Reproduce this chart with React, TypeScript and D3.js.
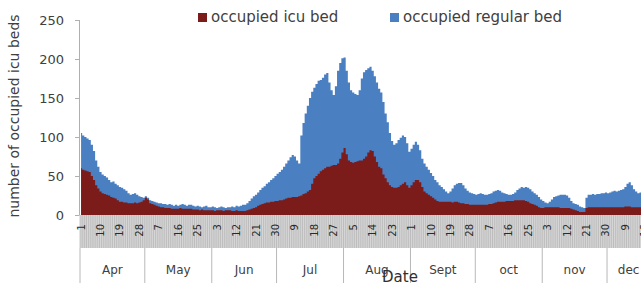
import { useEffect, useRef } from 'react';
import * as d3 from 'd3';

// months shown on the outer category level
const monthNames = ['Apr', 'May', 'Jun', 'Jul', 'Aug', 'Sept', 'oct', 'nov', 'dec'];
const monthDays = [30, 31, 30, 31, 31, 30, 31, 30, 20];

// occupied icu beds per day, from Apr 1
const icuBed = [
  60, 58, 57, 56, 55, 50, 45, 38, 34, 30,
  28, 27, 26, 25, 23, 22, 21, 19, 17, 17,
  16, 16, 15, 15, 15, 16, 15, 16, 17, 19,
  22, 20, 15, 14, 13, 12, 11, 10, 10, 9,
  9, 9, 8, 8, 8, 8, 9, 8, 8, 8,
  8, 8, 7, 7, 7, 6, 7, 6, 6, 6,
  6, 6, 5, 6, 6, 6, 5, 6, 6, 6,
  5, 5, 6, 5, 5, 5, 5, 6, 7, 8,
  9, 10, 12, 13, 14, 15, 16, 16, 17, 17,
  18, 18, 19, 19, 20, 21, 22, 22, 23, 23,
  23, 24, 25, 27, 28, 30, 32, 40, 47, 50,
  53, 56, 58, 60, 62, 62, 63, 64, 64, 66,
  72, 80, 86, 78, 70, 68, 67, 68, 69, 70,
  70, 72, 75, 80, 83, 82, 75, 68, 62, 60,
  52, 47, 42, 38, 36, 35, 35, 36, 38, 40,
  42, 38, 35, 38, 42, 45, 45, 42, 36, 30,
  28, 26, 24, 22, 20, 18, 17, 17, 17, 17,
  17, 17, 16, 17, 17, 16, 15, 15, 14, 14,
  13, 13, 13, 13, 13, 13, 13, 13, 13, 14,
  14, 15, 16, 17, 17, 17, 17, 18, 18, 18,
  18, 19, 19, 19, 19, 19, 18, 17, 15, 14,
  13, 12, 10, 9, 9, 10, 10, 10, 10, 10,
  10, 10, 9, 9, 9, 9, 9, 8, 7, 6,
  5, 4, 4, 4, 9, 10, 10, 10, 10, 10,
  10, 10, 10, 10, 10, 10, 10, 10, 10, 10,
  10, 10, 11, 11, 11, 10, 10, 10, 10, 10,
  10, 10, 10, 10,
];

// occupied regular beds per day (drawn behind the icu area)
const regularBed = [
  105, 102, 100, 98, 96, 90, 82, 70, 62, 55,
  52, 50, 48, 45, 42, 43, 40, 38, 36, 35,
  33, 31, 28, 26, 27, 28, 26, 24, 23, 22,
  24, 22, 19, 18, 17, 16, 15, 15, 14, 14,
  13, 14, 13, 12, 13, 12, 13, 14, 13, 12,
  13, 13, 12, 11, 12, 11, 10, 11, 12, 10,
  10, 11, 10, 9, 10, 11, 10, 9, 10, 10,
  11, 10, 12, 11, 12, 13, 13, 15, 18, 21,
  24, 26, 29, 32, 35, 37, 40, 42, 45, 47,
  50, 53, 55, 58, 62, 66, 70, 74, 77, 75,
  70, 66, 102, 118, 130, 140, 150, 158, 163, 168,
  172, 173, 176, 180, 182, 170, 160, 154, 165, 185,
  195, 201, 202, 185, 170, 160, 157, 155, 154, 160,
  175, 183, 186, 188, 190, 185, 178, 170, 162, 157,
  145, 130, 119, 105, 95, 90, 92, 96, 99, 102,
  100, 92, 81, 85, 90, 94, 90, 83, 72, 66,
  62, 58, 54, 50, 45, 42, 38, 36, 33, 30,
  28, 30, 34, 38, 40, 41, 41, 38, 34, 31,
  29, 28, 27, 26, 27, 28, 27, 26, 26, 27,
  28, 30, 31, 32, 31, 29, 28, 27, 26, 26,
  27, 29, 32, 34, 36, 35, 36, 35, 33, 30,
  28, 26, 23, 20, 18, 16, 15, 17, 20, 23,
  24, 25, 26, 26, 26, 25, 22, 18, 15, 14,
  13, 11, 10, 9, 22, 26, 26, 27, 26, 27,
  27, 28, 28, 29, 28, 29, 30, 31, 30, 31,
  32, 33, 36, 40, 42, 38, 33, 30, 28, 29,
  30, 31, 30, 30,
];

const yTicks = [0, 50, 100, 150, 200, 250];
const labelEvery = 9;

export default function App() {
  const svgRef = useRef<SVGSVGElement>(null);

  useEffect(() => {
    if (!svgRef.current) return;
    const svg = d3.select(svgRef.current);
    svg.selectAll('*').remove();

    const font = '"DejaVu Sans", sans-serif';
    const textColor = '#404040';
    const left = 80;
    const top = 20;
    const bottom = 215;
    const dayW = 2.16;
    const n = regularBed.length;

    // day of month for each category
    const dayOfMonth: number[] = [];
    monthDays.forEach(c => { for (let d = 1; d <= c; d++) dayOfMonth.push(d); });

    const x = d3.scaleBand<number>()
      .domain(d3.range(n))
      .range([left, left + n * dayW])
      .padding(0);
    const cx = (i: number) => (x(i) ?? 0) + x.bandwidth() / 2;

    const y = d3.scaleLinear().domain([0, 250]).range([bottom, top]);

    const area = d3.area<number>()
      .x((_, i) => cx(i))
      .y0(y(0))
      .y1(d => y(d))
      .curve(d3.curveStep);

    svg.append('path')
      .datum(regularBed)
      .attr('fill', '#4a7fc2')
      .attr('d', area);

    svg.append('path')
      .datum(icuBed)
      .attr('fill', '#7b1c1a')
      .attr('d', area);

    // y axis
    svg.append('line')
      .attr('x1', left - 0.5).attr('x2', left - 0.5)
      .attr('y1', top).attr('y2', bottom)
      .attr('stroke', '#b0b0b0');

    const yAxis = svg.append('g');
    yAxis.selectAll('line')
      .data(yTicks)
      .join('line')
      .attr('x1', left - 5).attr('x2', left - 0.5)
      .attr('y1', d => y(d) + 0.5).attr('y2', d => y(d) + 0.5)
      .attr('stroke', '#b0b0b0');
    yAxis.selectAll('text')
      .data(yTicks)
      .join('text')
      .attr('x', left - 16)
      .attr('y', d => y(d))
      .attr('dy', '0.35em')
      .attr('text-anchor', 'end')
      .attr('font-family', font)
      .attr('font-size', 13)
      .attr('fill', textColor)
      .text(d => d);

    svg.append('text')
      .attr('transform', `translate(19,${116}) rotate(-90)`)
      .attr('text-anchor', 'middle')
      .attr('font-family', font)
      .attr('font-size', 14)
      .attr('fill', textColor)
      .text('number of occupied icu beds');

    // inner category band (days)
    const bandTop = bottom;
    const bandBottom = 248;
    svg.append('rect')
      .attr('x', left)
      .attr('y', bandTop)
      .attr('width', n * dayW)
      .attr('height', bandBottom - bandTop)
      .attr('fill', '#d6d6d6');

    svg.append('g')
      .selectAll('line')
      .data(d3.range(n + 1))
      .join('line')
      .attr('x1', i => left + i * dayW).attr('x2', i => left + i * dayW)
      .attr('y1', bandTop).attr('y2', bandBottom)
      .attr('stroke', '#b2b2b2')
      .attr('stroke-width', 0.7);

    svg.append('g')
      .selectAll('text')
      .data(d3.range(n).filter(i => i % labelEvery === 0))
      .join('text')
      .attr('transform', i => `translate(${cx(i)},${bandTop + 9}) rotate(-90)`)
      .attr('text-anchor', 'end')
      .attr('dy', '0.35em')
      .attr('font-family', font)
      .attr('font-size', 10)
      .attr('fill', '#2a2a2a')
      .text(i => dayOfMonth[i]);

    // outer category level (months)
    const starts = [0, ...d3.cumsum(monthDays)];
    svg.append('g')
      .selectAll('line')
      .data(starts)
      .join('line')
      .attr('x1', s => left + s * dayW).attr('x2', s => left + s * dayW)
      .attr('y1', bandBottom).attr('y2', 283)
      .attr('stroke', '#b8b8b8');

    svg.append('g')
      .selectAll('text')
      .data(monthNames)
      .join('text')
      .attr('x', (_, m) => left + (starts[m] + monthDays[m] / 2) * dayW)
      .attr('y', 274)
      .attr('text-anchor', 'middle')
      .attr('font-family', font)
      .attr('font-size', 12)
      .attr('fill', textColor)
      .text(d => d);

    svg.append('text')
      .attr('x', 400)
      .attr('y', 282)
      .attr('text-anchor', 'middle')
      .attr('font-family', font)
      .attr('font-size', 15)
      .attr('fill', '#303030')
      .text('Date');

    // legend
    const legend = [
      { label: 'occupied icu bed', color: '#7b1c1a', x: 198 },
      { label: 'occupied regular bed', color: '#4a7fc2', x: 390 },
    ];
    const lg = svg.append('g');
    lg.selectAll('rect')
      .data(legend)
      .join('rect')
      .attr('x', d => d.x).attr('y', 13)
      .attr('width', 9).attr('height', 9)
      .attr('fill', d => d.color);
    lg.selectAll('text')
      .data(legend)
      .join('text')
      .attr('x', d => d.x + 13)
      .attr('y', 22)
      .attr('font-family', font)
      .attr('font-size', 15)
      .attr('fill', textColor)
      .text(d => d.label);
  }, []);

  return (
    <svg
      ref={svgRef}
      width={641}
      height={283}
      style={{ position: 'absolute', left: 0, top: 0, background: '#fff' }}
    />
  );
}
